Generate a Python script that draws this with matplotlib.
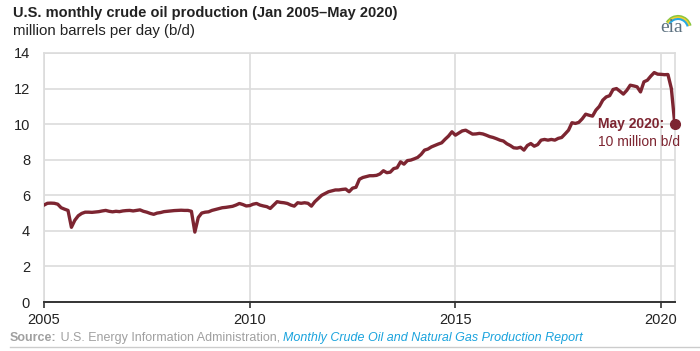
import matplotlib
matplotlib.use("Agg")
import matplotlib.pyplot as plt
from matplotlib.lines import Line2D
from matplotlib.patches import Arc
import numpy as np

plt.rcParams['font.family'] = ['Liberation Sans', 'DejaVu Sans']

# monthly U.S. crude oil production, million b/d, Jan 2005 - May 2020
prod_2005 = [5.45, 5.55, 5.56, 5.55, 5.50, 5.30, 5.22, 5.15, 4.20, 4.60, 4.85, 4.98]
prod_2006 = [5.05, 5.05, 5.04, 5.06, 5.08, 5.12, 5.15, 5.10, 5.07, 5.10, 5.08, 5.12]
prod_2007 = [5.14, 5.15, 5.12, 5.15, 5.18, 5.10, 5.05, 4.98, 4.93, 5.00, 5.03, 5.08]
prod_2008 = [5.10, 5.12, 5.14, 5.15, 5.16, 5.15, 5.15, 5.10, 3.93, 4.75, 5.00, 5.05]
prod_2009 = [5.07, 5.15, 5.20, 5.25, 5.30, 5.32, 5.35, 5.38, 5.45, 5.54, 5.48, 5.40]
prod_2010 = [5.42, 5.50, 5.54, 5.45, 5.40, 5.36, 5.26, 5.45, 5.64, 5.60, 5.58, 5.54]
prod_2011 = [5.45, 5.39, 5.58, 5.55, 5.58, 5.55, 5.39, 5.64, 5.82, 6.00, 6.10, 6.20]
prod_2012 = [6.25, 6.30, 6.30, 6.33, 6.35, 6.20, 6.40, 6.45, 6.90, 7.00, 7.05, 7.10]
prod_2013 = [7.10, 7.12, 7.20, 7.38, 7.27, 7.30, 7.50, 7.55, 7.88, 7.75, 7.95, 7.98]
prod_2014 = [8.05, 8.13, 8.30, 8.54, 8.60, 8.72, 8.80, 8.88, 8.95, 9.15, 9.33, 9.57]
prod_2015 = [9.38, 9.50, 9.62, 9.66, 9.55, 9.44, 9.45, 9.48, 9.45, 9.38, 9.30, 9.25]
prod_2016 = [9.18, 9.10, 9.05, 8.90, 8.80, 8.67, 8.65, 8.70, 8.54, 8.80, 8.91, 8.76]
prod_2017 = [8.85, 9.10, 9.14, 9.10, 9.14, 9.10, 9.20, 9.25, 9.45, 9.66, 10.08, 10.04]
prod_2018 = [10.10, 10.30, 10.56, 10.50, 10.45, 10.79, 11.00, 11.35, 11.53, 11.60, 11.95, 12.00]
prod_2019 = [11.85, 11.69, 11.90, 12.19, 12.15, 12.10, 11.81, 12.38, 12.47, 12.70, 12.90, 12.81]
prod_2020 = [12.80, 12.78, 12.79, 12.00, 10.00]

values = (prod_2005 + prod_2006 + prod_2007 + prod_2008 + prod_2009 + prod_2010
          + prod_2011 + prod_2012 + prod_2013 + prod_2014 + prod_2015 + prod_2016
          + prod_2017 + prod_2018 + prod_2019 + prod_2020)
dates = 2005 + np.arange(len(values)) / 12.0

year_ticks = [2005, 2010, 2015, 2020]
y_ticks = [0, 2, 4, 6, 8, 10, 12, 14]

line_col = '#7d2531'
grid_col = '#dcdcdc'

fig = plt.figure(figsize=(7.0, 3.51), dpi=100)
ax = fig.add_axes([44/700, 1 - 302/351, 631/700, 249/351])

ax.plot(dates, values, color=line_col, lw=2.4, solid_joinstyle='round', zorder=3)
ax.plot(dates[-1], values[-1], 'o', color=line_col, ms=7, zorder=4, clip_on=False)

ax.set_xlim(2005, dates[-1] + 0.005)
ax.set_ylim(0, 14)
ax.set_xticks(year_ticks)
ax.set_xticklabels([str(y) for y in year_ticks])
ax.set_yticks(y_ticks)
ax.grid(True, color=grid_col, lw=1.2, zorder=0)
ax.tick_params(axis='y', length=0, pad=10, labelsize=10.5, colors='#222222')
ax.tick_params(axis='x', length=4, width=1.2, direction='out', color='#333333',
               pad=4, labelsize=10.5, labelcolor='#222222')
for s in ['left', 'top', 'right']:
    ax.spines[s].set_color(grid_col)
    ax.spines[s].set_linewidth(1.2)
ax.spines['bottom'].set_color('#333333')
ax.spines['bottom'].set_linewidth(1.4)

# annotation for last point
ax.annotate('May 2020:', xy=(dates[-1], values[-1]), xytext=(-55.5, 0),
            textcoords='offset points', ha='left', va='center',
            fontsize=10, fontweight='bold', color=line_col)
ax.annotate('10 million b/d', xy=(dates[-1], values[-1]), xytext=(-55.5, -12.5),
            textcoords='offset points', ha='left', va='center',
            fontsize=10, color=line_col)

# titles
fig.text(13/700, 1 - 13/351, 'U.S. monthly crude oil production (Jan 2005\u2013May 2020)',
         fontsize=10.5, fontweight='bold', color='#222222', va='center', ha='left')
fig.text(13/700, 1 - 31/351, 'million barrels per day (b/d)',
         fontsize=10.8, color='#222222', va='center', ha='left')

# source line, built piece by piece
fig.canvas.draw()
renderer = fig.canvas.get_renderer()
x0 = 10 / 700
ys = 1 - 338 / 351
parts = [('Source:', dict(fontweight='bold', color='#a0a0a0')),
         (' U.S. Energy Information Administration, ', dict(color='#a0a0a0')),
         ('Monthly Crude Oil and Natural Gas Production Report', dict(style='italic', color='#1aa3dd'))]
for txt, kw in parts:
    t = fig.text(x0, ys, txt, fontsize=9, va='center', ha='left', **kw)
    bb = t.get_window_extent(renderer)
    x0 += bb.width / fig.bbox.width
fig.add_artist(Line2D([10/700, 1.0], [1 - 347/351, 1 - 347/351], color='#cccccc', lw=1))

# eia logo
lax = fig.add_axes([655/700, 1 - 38/351, 40/700, 33/351])
lax.set_xlim(655, 695)
lax.set_ylim(38, 5)
lax.axis('off')
for r, c in [(13, '#8cc63f'), (11.5, '#f5d02c'), (10, '#29a8e0')]:
    lax.add_patch(Arc((678, 29), 2 * r, 2 * r, theta1=-150, theta2=-15, color=c, lw=1.5))
fig.text(672/700, 1 - 28/351, 'eia', fontsize=14, family=['Liberation Serif', 'DejaVu Serif'],
         color='#5d7180', ha='center', va='center', zorder=5)

fig.savefig('out.png', dpi=100)
